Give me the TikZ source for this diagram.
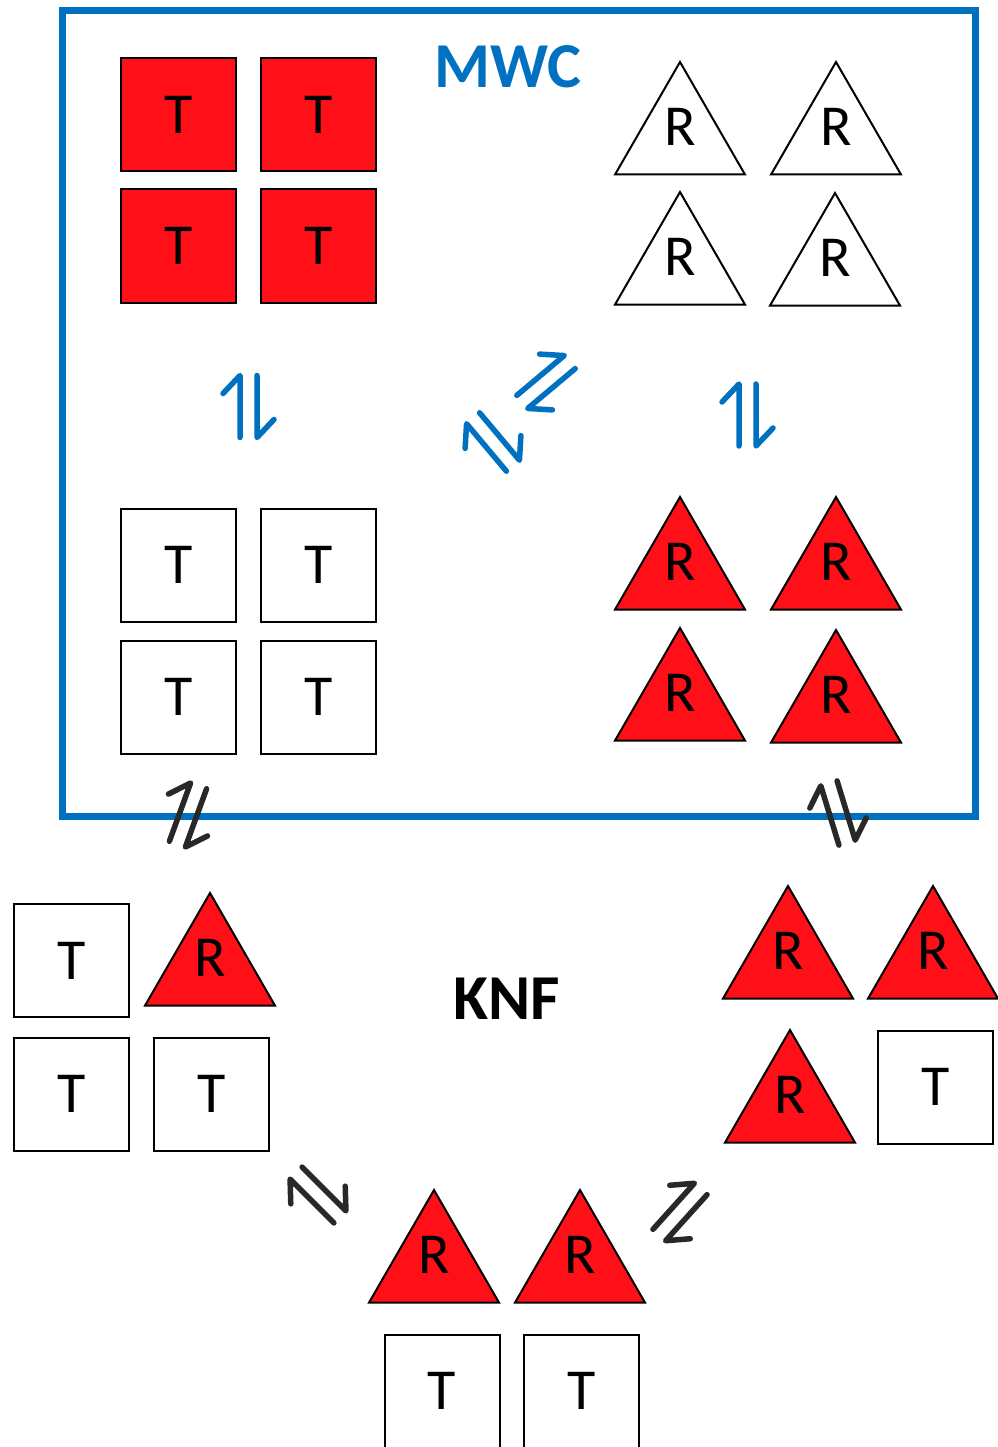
\documentclass[tikz,border=0pt]{standalone}
\usepackage{fontspec}
\setmainfont{Carlito}
\usetikzlibrary{shapes.geometric}
\definecolor{mwcblue}{RGB}{0,112,192}
\definecolor{redfill}{RGB}{255,16,24}
\definecolor{eqgray}{RGB}{40,40,40}
\tikzset{
  sq/.style={draw=black, line width=2pt, minimum width=115pt, minimum height=113pt,
    inner sep=0pt, outer sep=0pt, font=\fontsize{58}{60}\selectfont},
  redsq/.style={sq, fill=redfill},
  whitesq/.style={sq, fill=white},
  tri/.style={regular polygon, regular polygon sides=3, minimum size=150pt,
    draw=black, line width=2pt, inner sep=0pt, outer sep=0pt},
  redtri/.style={tri, fill=redfill},
  whitetri/.style={tri, fill=white},
  lbl/.style={font=\fontsize{58}{60}\selectfont, inner sep=0pt},
  title/.style={font=\fontsize{64}{66}\selectfont\bfseries, inner sep=0pt},
  eqsym/.style={line width=5.5pt, line cap=round, line join=round},
  blueeq/.style={eqsym, draw=mwcblue},
  grayeq/.style={eqsym, draw=eqgray},
  eq/.pic={
    \draw (-8.5,31) -- (-8.5,-31) -- (-25.5,-13);
    \draw (8.5,-31) -- (8.5,31) -- (25.5,13);
  }
}
\newcommand\Tri[4]{%
  \node[#4] (#1) at (#2,#3+75) {};
  \node[lbl] (#1l) at (#2,#3+65) {R};}
\begin{document}
\begin{tikzpicture}[x=1pt,y=-1pt]
\useasboundingbox (0,0) rectangle (997,1447);
% MWC box
\draw[mwcblue, line width=7pt] (62,11) rectangle (975,816);
\node[title, text=mwcblue] (mwc) at (508,67) {MWC};
\node[title, text=black] (knf) at (507,999) {KNF};
% MWC: red T squares
\node[redsq] (t1) at (178.5,114.5) {T};
\node[redsq] (t2) at (318.5,114.5) {T};
\node[redsq] (t3) at (178.5,246) {T};
\node[redsq] (t4) at (318.5,246) {T};
% MWC: white R triangles
\Tri{r1}{680}{62}{whitetri}
\Tri{r2}{836}{62}{whitetri}
\Tri{r3}{680}{192}{whitetri}
\Tri{r4}{835}{193}{whitetri}
% MWC: white T squares
\node[whitesq] (w1) at (178.5,565) {T};
\node[whitesq] (w2) at (318.5,565) {T};
\node[whitesq] (w3) at (178.5,697) {T};
\node[whitesq] (w4) at (318.5,697) {T};
% MWC: red R triangles
\Tri{q1}{680}{497}{redtri}
\Tri{q2}{836}{497}{redtri}
\Tri{q3}{680}{628}{redtri}
\Tri{q4}{836}{630}{redtri}
% KNF left
\node[whitesq] (k1) at (71.5,960.5) {T};
\Tri{k2}{210}{893}{redtri}
\node[whitesq] (k3) at (71.5,1094) {T};
\node[whitesq] (k4) at (211.5,1094) {T};
% KNF bottom
\Tri{b1}{434}{1190}{redtri}
\Tri{b2}{580}{1190}{redtri}
\node[whitesq] (b3) at (442,1391) {T};
\node[whitesq] (b4) at (581.5,1391) {T};
% KNF right
\Tri{g1}{788}{886}{redtri}
\Tri{g2}{933}{886}{redtri}
\Tri{g3}{790}{1030}{redtri}
\node[whitesq] (g4) at (935.5,1087) {T};
% equilibrium symbols
\pic[blueeq] (e1) at (248.5,406.5) {eq};
\pic[blueeq] (e2) at (747.5,415) {eq};
\pic[blueeq, rotate=-50] (e3) at (546,382) {eq};
\pic[blueeq, rotate=40] (e4) at (493,442) {eq};
\pic[grayeq, rotate=-20] (e5) at (188,815) {eq};
\pic[grayeq, rotate=17] (e6) at (838,813) {eq};
\pic[grayeq, rotate=45] (e7) at (318,1195) {eq};
\pic[grayeq, rotate=-42] (e8) at (680,1212) {eq};
\end{tikzpicture}
\end{document}
